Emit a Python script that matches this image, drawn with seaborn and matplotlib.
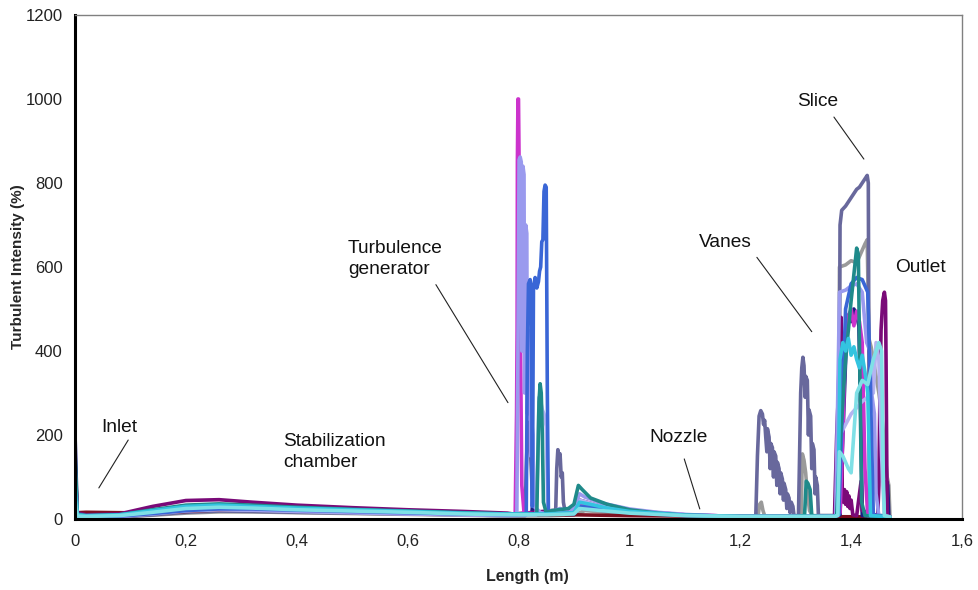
import matplotlib
matplotlib.use("Agg")
import matplotlib.pyplot as plt
import seaborn as sns

sns.set_style("white")
plt.rcParams["font.family"] = ["Liberation Sans", "DejaVu Sans"]

# ---- turbulent intensity profiles along the tunnel: (length m, intensity %) ----
gray_pts = [(0, 60), (0.004, 5), (0.02, 4), (0.08, 5), (0.14, 9), (0.2, 14), (0.26, 17),
            (0.32, 17), (0.4, 15), (0.5, 13), (0.6, 11), (0.7, 9), (0.78, 7), (0.86, 8),
            (0.9, 10), (0.92, 20), (1.0, 12), (1.1, 8), (1.2, 6), (1.232, 6), (1.235, 35),
            (1.238, 40), (1.241, 20), (1.244, 8), (1.25, 6), (1.3, 6), (1.31, 10),
            (1.312, 155), (1.315, 140), (1.318, 110), (1.321, 60), (1.325, 20), (1.33, 8),
            (1.37, 8), (1.377, 10), (1.379, 600), (1.39, 605), (1.40, 615), (1.41, 610),
            (1.42, 640), (1.425, 655), (1.429, 665), (1.432, 430), (1.436, 410), (1.44, 380),
            (1.445, 340), (1.45, 300), (1.455, 250), (1.46, 180), (1.465, 100), (1.468, 80),
            (1.47, 8)]

slate_pts = [(0, 100), (0.004, 6), (0.02, 4), (0.08, 5), (0.14, 10), (0.2, 16), (0.26, 19),
             (0.32, 18), (0.4, 16), (0.5, 14), (0.6, 12), (0.7, 10), (0.78, 8), (0.812, 8),
             (0.814, 120), (0.816, 200), (0.819, 230), (0.822, 150), (0.825, 60), (0.828, 10),
             (0.86, 10), (0.867, 15), (0.869, 120), (0.871, 165), (0.873, 150), (0.875, 155),
             (0.877, 100), (0.879, 110), (0.881, 40), (0.885, 10), (0.9, 10), (0.91, 30),
             (0.95, 20), (1.0, 14), (1.1, 8), (1.2, 6),
             (1.228, 6), (1.231, 150), (1.234, 245), (1.237, 258), (1.240, 250), (1.242, 225),
             (1.244, 235), (1.246, 195), (1.248, 160), (1.249, 215), (1.252, 195),
             (1.254, 120), (1.255, 180), (1.258, 170), (1.260, 100), (1.261, 160),
             (1.264, 150), (1.266, 80), (1.267, 135), (1.270, 120), (1.272, 60), (1.273, 110),
             (1.276, 95), (1.278, 45), (1.279, 85), (1.282, 70), (1.284, 25), (1.285, 60),
             (1.288, 50), (1.290, 15), (1.292, 40), (1.295, 30), (1.297, 8),
             (1.305, 8), (1.307, 150), (1.309, 300), (1.311, 360), (1.313, 385), (1.315, 365),
             (1.317, 290), (1.318, 340), (1.321, 330), (1.323, 200), (1.324, 260),
             (1.327, 245), (1.329, 120), (1.330, 180), (1.333, 165), (1.335, 60), (1.336, 100),
             (1.339, 80), (1.341, 8), (1.37, 8),
             (1.378, 10), (1.380, 700), (1.383, 735), (1.39, 745), (1.395, 755), (1.40, 765),
             (1.405, 775), (1.41, 785), (1.415, 790), (1.42, 800), (1.425, 810), (1.429, 818),
             (1.431, 800), (1.433, 8), (1.47, 5)]

maroon_pts = [(0, 140), (0.004, 15), (0.02, 16), (0.08, 15), (0.14, 14), (0.2, 18), (0.26, 22),
              (0.32, 24), (0.4, 22), (0.5, 18), (0.6, 15), (0.7, 12), (0.78, 10), (0.9, 10),
              (1.0, 8), (1.2, 6), (1.47, 5)]

navy_pts = [(0, 205), (0.004, 12), (0.02, 8), (0.08, 9), (0.14, 16), (0.2, 22), (0.26, 26),
            (0.32, 27), (0.4, 25), (0.5, 21), (0.6, 17), (0.7, 13), (0.78, 11), (0.824, 11),
            (0.826, 45), (0.828, 15), (0.9, 12), (0.91, 30), (1.0, 15), (1.1, 8), (1.2, 6),
            (1.37, 6), (1.38, 10), (1.392, 450), (1.397, 490), (1.40, 470), (1.405, 500),
            (1.41, 485), (1.414, 460), (1.418, 200), (1.42, 8), (1.462, 8), (1.464, 90),
            (1.466, 80), (1.468, 5)]

purple_pts = [(0, 130), (0.004, 15), (0.02, 10), (0.08, 12), (0.14, 30), (0.2, 44), (0.26, 46),
              (0.32, 40), (0.4, 33), (0.5, 27), (0.6, 22), (0.7, 18), (0.78, 14), (0.79, 12),
              (0.82, 15), (0.86, 20), (0.9, 20), (0.91, 45), (0.95, 30), (1.0, 20), (1.1, 10),
              (1.2, 6), (1.3, 6), (1.37, 6), (1.374, 200), (1.377, 300), (1.38, 470),
              (1.382, 480), (1.384, 60), (1.386, 40), (1.388, 70), (1.39, 35), (1.392, 65),
              (1.394, 30), (1.396, 55), (1.398, 25), (1.40, 45), (1.403, 10), (1.41, 8),
              (1.418, 90), (1.42, 20), (1.448, 8), (1.450, 80), (1.452, 300), (1.454, 450),
              (1.457, 520), (1.460, 540), (1.462, 520), (1.463, 380), (1.465, 10), (1.47, 5)]

magenta_pts = [(0, 120), (0.004, 10), (0.02, 6), (0.08, 8), (0.14, 15), (0.2, 24), (0.26, 27),
               (0.32, 25), (0.4, 21), (0.5, 18), (0.6, 15), (0.7, 12), (0.78, 10), (0.794, 10),
               (0.7965, 250), (0.7975, 450), (0.798, 850), (0.799, 1000), (0.800, 1000),
               (0.801, 860), (0.803, 500), (0.806, 80), (0.81, 15), (0.83, 12), (0.86, 12),
               (0.9, 15), (0.91, 35), (0.93, 30), (1.0, 18), (1.1, 10), (1.2, 6), (1.3, 6),
               (1.37, 6), (1.38, 15), (1.385, 200), (1.39, 440), (1.395, 480), (1.40, 500),
               (1.405, 460), (1.41, 495), (1.415, 470), (1.42, 420), (1.425, 120), (1.43, 8),
               (1.47, 5)]

lav_pts = [(0, 110), (0.004, 8), (0.02, 5), (0.08, 6), (0.14, 14), (0.2, 22), (0.26, 24),
           (0.32, 22), (0.4, 19), (0.5, 16), (0.6, 13), (0.7, 11), (0.78, 9), (0.797, 9),
           (0.7995, 500), (0.801, 855), (0.803, 862), (0.805, 850), (0.806, 400), (0.808, 840),
           (0.810, 820), (0.811, 300), (0.813, 700), (0.815, 680), (0.816, 250), (0.818, 450),
           (0.820, 430), (0.822, 150), (0.824, 230), (0.826, 200), (0.828, 30), (0.84, 15),
           (0.855, 12), (0.865, 20), (0.875, 25), (0.89, 15), (0.9, 25), (0.91, 60),
           (0.92, 52), (0.95, 38), (1.0, 24), (1.05, 16), (1.1, 11), (1.15, 8), (1.2, 6),
           (1.25, 6), (1.3, 6), (1.35, 6), (1.372, 7), (1.376, 300), (1.379, 540),
           (1.39, 545), (1.40, 555), (1.41, 560), (1.42, 540), (1.428, 420), (1.434, 400),
           (1.437, 300), (1.442, 250), (1.445, 60), (1.45, 8), (1.47, 5)]

lav2_pts = [(0, 70), (0.004, 6), (0.02, 5), (0.08, 6), (0.14, 12), (0.2, 19), (0.26, 22),
            (0.32, 21), (0.4, 18), (0.5, 15), (0.6, 12), (0.7, 10), (0.78, 8), (0.832, 10),
            (0.835, 150), (0.837, 290), (0.840, 280), (0.843, 260), (0.846, 250), (0.85, 220),
            (0.853, 20), (0.9, 15), (0.91, 45), (0.95, 30), (1.0, 20), (1.1, 10), (1.2, 6),
            (1.37, 6), (1.375, 10), (1.38, 200), (1.40, 250), (1.42, 280), (1.44, 300),
            (1.445, 420), (1.45, 380), (1.455, 150), (1.46, 8), (1.47, 5)]

blue_pts = [(0, 80), (0.004, 8), (0.02, 6), (0.08, 7), (0.14, 13), (0.2, 20), (0.26, 24),
            (0.32, 24), (0.4, 21), (0.5, 18), (0.6, 15), (0.7, 12), (0.78, 10), (0.814, 10),
            (0.816, 400), (0.818, 560), (0.821, 570), (0.823, 545), (0.825, 30), (0.827, 550),
            (0.830, 575), (0.833, 550), (0.836, 565), (0.838, 590), (0.840, 600),
            (0.842, 660), (0.844, 665), (0.846, 780), (0.848, 795), (0.850, 790),
            (0.852, 300), (0.854, 12), (0.86, 12), (0.9, 15), (0.91, 30), (0.95, 25),
            (1.0, 16), (1.1, 9), (1.2, 6), (1.3, 6), (1.37, 6), (1.378, 10), (1.385, 300),
            (1.39, 500), (1.40, 560), (1.41, 575), (1.42, 570), (1.43, 540), (1.435, 300),
            (1.44, 10), (1.47, 5)]

teal_pts = [(0, 160), (0.004, 12), (0.02, 8), (0.08, 10), (0.14, 22), (0.2, 33), (0.26, 36),
            (0.32, 33), (0.4, 28), (0.5, 23), (0.6, 19), (0.7, 15), (0.78, 12), (0.833, 12),
            (0.835, 150), (0.837, 280), (0.839, 322), (0.841, 300), (0.843, 200), (0.845, 40),
            (0.85, 15), (0.86, 20), (0.89, 25), (0.9, 35), (0.908, 80), (0.915, 70),
            (0.93, 50), (0.96, 35), (1.0, 22), (1.05, 14), (1.1, 9), (1.2, 6), (1.3, 6),
            (1.316, 8), (1.319, 90), (1.322, 85), (1.326, 70), (1.329, 8), (1.34, 6),
            (1.37, 6), (1.374, 10), (1.38, 180), (1.39, 380), (1.40, 520), (1.41, 645),
            (1.413, 630), (1.416, 320), (1.419, 40), (1.425, 8), (1.47, 5)]

cyan_pts = [(0, 90), (0.004, 10), (0.02, 8), (0.08, 10), (0.14, 20), (0.2, 30), (0.26, 33),
            (0.32, 30), (0.4, 26), (0.5, 22), (0.6, 18), (0.7, 14), (0.78, 12), (0.85, 12),
            (0.9, 15), (0.91, 40), (0.93, 35), (0.96, 26), (1.0, 18), (1.1, 9), (1.2, 6),
            (1.37, 6), (1.376, 10), (1.38, 380), (1.385, 420), (1.39, 400), (1.395, 430),
            (1.40, 390), (1.405, 410), (1.41, 380), (1.415, 360), (1.42, 390), (1.425, 350),
            (1.43, 300), (1.435, 8), (1.47, 5)]

aqua_pts = [(0, 50), (0.004, 7), (0.02, 6), (0.08, 8), (0.14, 16), (0.2, 25), (0.26, 28),
            (0.32, 26), (0.4, 22), (0.5, 19), (0.6, 16), (0.7, 12), (0.78, 10), (0.85, 10),
            (0.9, 12), (0.91, 25), (0.95, 20), (1.0, 14), (1.1, 8), (1.2, 6), (1.37, 6),
            (1.376, 8), (1.379, 160), (1.385, 150), (1.39, 135), (1.395, 120), (1.40, 110),
            (1.41, 300), (1.42, 330), (1.43, 320), (1.44, 380), (1.45, 420), (1.455, 400),
            (1.458, 100), (1.46, 8), (1.47, 5)]

# draw order and colours of the profiles
profiles = [
    (gray_pts, "#9a9a9a"),
    (slate_pts, "#68689c"),
    (maroon_pts, "#7d1020"),
    (navy_pts, "#1c1c80"),
    (purple_pts, "#7a0a78"),
    (magenta_pts, "#cc33cc"),
    (lav2_pts, "#b4b4f0"),
    (lav_pts, "#9a9aee"),
    (blue_pts, "#3a66d6"),
    (teal_pts, "#1f8a8a"),
    (cyan_pts, "#33c4e0"),
    (aqua_pts, "#7fe0e6"),
]

fig = plt.figure(figsize=(9.79, 5.90), dpi=100)
ax = fig.add_axes([75 / 979, 71 / 590, 887 / 979, 504 / 590])

for pts, col in profiles:
    xs = [p[0] for p in pts]
    ys = [p[1] for p in pts]
    sns.lineplot(x=xs, y=ys, ax=ax, color=col, lw=2.6, estimator=None, sort=False,
                 legend=False)

ax.set_xlim(0, 1.6)
ax.set_ylim(0, 1200)
x_ticks = [0, 0.2, 0.4, 0.6, 0.8, 1.0, 1.2, 1.4, 1.6]
x_labels = ["0", "0,2", "0,4", "0,6", "0,8", "1", "1,2", "1,4", "1,6"]
y_ticks = [0, 200, 400, 600, 800, 1000, 1200]
ax.set_xticks(x_ticks)
ax.set_xticklabels(x_labels)
ax.set_yticks(y_ticks)
ax.tick_params(axis="both", direction="out", length=5, width=1.4, colors="black",
               labelsize=12, labelcolor="#222222")
ax.tick_params(axis="x", pad=6)
ax.tick_params(axis="y", pad=4)

for side in ("left", "bottom"):
    ax.spines[side].set_color("black")
    ax.spines[side].set_linewidth(2.2)
for side in ("top", "right"):
    ax.spines[side].set_color("#808080")
    ax.spines[side].set_linewidth(1.0)

ax.set_xlabel("Length (m)", fontsize=11.5, fontweight="bold")
ax.set_ylabel("Turbulent Intensity (%)", fontsize=11, fontweight="bold")
ax.xaxis.set_label_coords((527 - 75) / 887, -(577 - 519) / 504)
ax.yaxis.set_label_coords(-(75 - 18) / 887, 0.5)
ax.xaxis.label.set_va("center")
ax.yaxis.label.set_va("center")

# section labels with leader lines
notes = [
    ("Inlet", 0.047, 219, (0.096, 188), (0.043, 74)),
    ("Stabilization\nchamber", 0.376, 160, None, None),
    ("Turbulence\ngenerator", 0.492, 618, (0.651, 558), (0.781, 277)),
    ("Nozzle", 1.036, 193, (1.099, 143), (1.127, 24)),
    ("Vanes", 1.125, 659, (1.230, 623), (1.329, 446)),
    ("Slice", 1.302, 995, (1.369, 957), (1.423, 857)),
    ("Outlet", 1.479, 599, None, None),
]
for text, tx, ty, p0, p1 in notes:
    ax.text(tx, ty, text, fontsize=13.8, color="#111111", ha="left", va="center",
            linespacing=1.3)
    if p0 is not None:
        ax.plot([p0[0], p1[0]], [p0[1], p1[1]], color="#222222", lw=0.8)

fig.savefig("out.png", dpi=100)
